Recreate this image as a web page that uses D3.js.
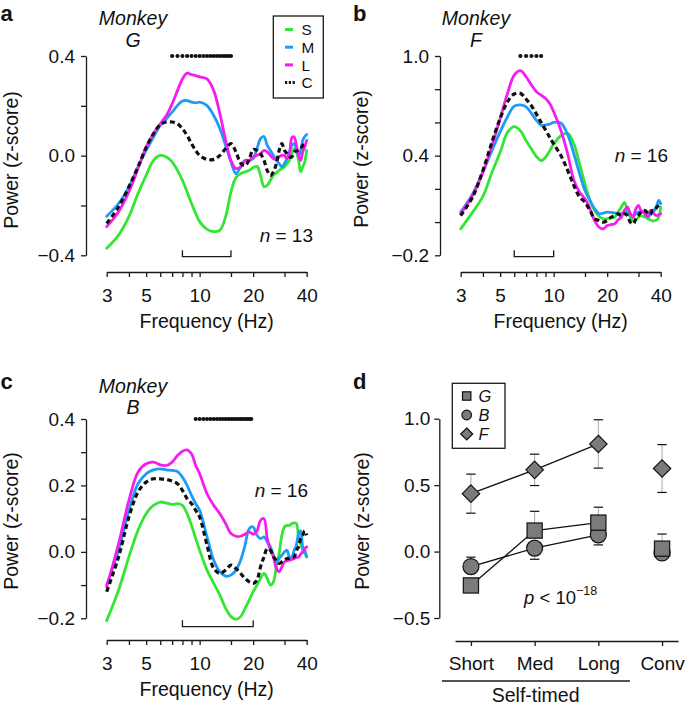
<!DOCTYPE html>
<html><head><meta charset="utf-8">
<script src="https://cdn.jsdelivr.net/npm/d3@7"></script>
<style>
body{margin:0;background:#fff;}
svg{display:block;font-family:"Liberation Sans",Arial,Helvetica,sans-serif;}
</style></head><body>
<svg id="chart" width="685" height="706"></svg>
<script>
// ---------------- DATA ----------------
const freqs = [3,3.5,4,4.5,5,5.5,6,6.5,7,7.5,8,8.5,9,9.5,10,11,12,13,14,15,16,17,18,19,20,21,22,23,24,25,26,27,28,29,30,31,32,33,34,35,36,37,38,39,40];
const freqTicks = [3,4,5,6,7,8,9,10,15,20,30,40];
const freqTickLabels = [3,5,10,20,40];
const seriesNames = ["S","M","L","C"];

// Panel a — Monkey G
const aS = [-0.372,-0.319,-0.245,-0.152,-0.079,-0.019,0.001,-0.005,-0.025,-0.059,-0.099,-0.145,-0.192,-0.232,-0.265,
  -0.296,-0.305,-0.299,-0.245,-0.145,-0.088,-0.072,-0.065,-0.059,-0.048,
  -0.043,-0.079,-0.125,-0.119,-0.099,-0.079,-0.069,-0.059,-0.052,-0.045,-0.032,-0.019,0.008,0.028,0.015,-0.019,-0.065,-0.045,-0.025,0.021];
const aM = [-0.243,-0.192,-0.125,-0.045,0.021,0.075,0.121,0.148,0.175,0.201,0.219,0.221,0.215,0.212,0.215,
  0.201,0.161,0.108,0.041,-0.025,-0.072,-0.045,-0.019,-0.019,-0.012,
  0.028,0.068,0.077,0.041,0.021,0.001,-0.019,-0.032,-0.045,-0.032,-0.012,0.015,0.041,0.048,0.028,0.001,0.021,0.061,0.077,0.085];
const aL = [-0.285,-0.225,-0.145,-0.052,0.035,0.088,0.128,0.161,0.208,0.261,0.308,0.331,0.325,0.321,0.316,
  0.308,0.261,0.168,0.061,-0.019,-0.052,-0.045,-0.019,-0.019,-0.005,
  0.001,0.008,0.021,0.015,0.001,-0.012,-0.016,-0.005,0.001,0.001,-0.012,0.008,0.072,0.075,0.041,0.001,-0.019,0.015,0.035,0.061];
const aC = [-0.272,-0.205,-0.125,-0.045,0.032,0.088,0.124,0.135,0.135,0.128,0.108,0.081,0.048,0.021,0.001,
  -0.015,-0.015,0.001,0.028,0.048,0.015,-0.03,-0.04,-0.015,0.025,
  0.021,0.008,-0.019,-0.06,-0.079,-0.065,-0.032,0.021,0.048,0.021,0.008,-0.005,-0.005,0.015,0.019,0.021,0.028,0.041,0.045,0.048];
const aSig = [7,7.5,8,8.5,9,9.5,10,10.5,11,11.5,12,12.5,13,13.5,14,14.5,15];
const aBracket = [8,15];

// Panel b — Monkey F
const bS = [-0.041,0.06,0.155,0.3,0.42,0.54,0.575,0.55,0.49,0.44,0.395,0.37,0.39,0.43,0.47,
  0.52,0.535,0.47,0.35,0.23,0.13,0.07,0.035,0.02,0.02,
  0.025,0.029,0.06,0.09,0.119,0.07,0.029,0.008,0.013,0.029,0.039,0.033,0.029,0.019,0.013,0.008,0.009,0.013,0.029,0.09];
const bM = [0.06,0.17,0.301,0.432,0.543,0.634,0.698,0.706,0.694,0.654,0.613,0.583,0.585,0.59,0.6,
  0.595,0.525,0.41,0.29,0.19,0.13,0.08,0.05,0.054,0.06,
  0.058,0.056,0.05,0.05,0.06,0.054,0.046,0.039,0.05,0.06,0.06,0.06,0.046,0.029,0.05,0.066,0.07,0.1,0.13,0.11];
const bL = [0.05,0.16,0.301,0.462,0.624,0.775,0.885,0.912,0.875,0.825,0.785,0.765,0.744,0.714,0.664,
  0.55,0.41,0.251,0.18,0.14,0.08,0.009,-0.031,-0.041,-0.021,
  -0.015,-0.011,0.013,0.029,0.07,0.09,0.05,0.029,0.08,0.1,0.07,0.06,0.04,0.039,0.07,0.06,0.046,0.039,0.045,0.05];
const bC = [0.039,0.15,0.311,0.483,0.624,0.724,0.771,0.775,0.74,0.7,0.65,0.6,0.555,0.51,0.47,
  0.4,0.31,0.22,0.15,0.12,0.07,0.02,0.009,0.0,0.009,
  0.029,0.039,0.05,0.039,0.05,0.039,-0.001,-0.011,0.019,0.039,0.06,0.07,0.066,0.05,0.046,0.07,0.07,0.09,0.1,0.11];
const bSig = [6.5,7,7.5,8,8.5];
const bBracket = [6,10];

// Panel c — Monkey B
const cS = [-0.207,-0.115,-0.015,0.065,0.115,0.14,0.15,0.147,0.143,0.145,0.14,0.115,0.08,0.04,0.005,
  -0.055,-0.095,-0.13,-0.17,-0.195,-0.203,-0.195,-0.17,-0.145,-0.12,
  -0.1,-0.08,-0.065,-0.08,-0.1,-0.09,-0.045,-0.005,0.05,0.075,0.08,0.08,0.085,0.087,0.085,0.045,0.025,0.005,-0.005,-0.015];
const cM = [-0.1,0.005,0.125,0.205,0.235,0.247,0.25,0.247,0.245,0.242,0.225,0.2,0.17,0.145,0.125,
  0.045,-0.025,-0.06,-0.073,-0.07,-0.055,-0.025,0.02,0.07,0.075,
  0.05,0.04,0.045,0.03,0.015,-0.01,-0.03,-0.02,-0.01,0.0,0.005,-0.015,-0.015,0.005,0.02,0.055,0.063,0.015,0.005,-0.015];
const cL = [-0.105,0.025,0.155,0.24,0.265,0.27,0.262,0.26,0.27,0.29,0.303,0.307,0.295,0.26,0.235,
  0.175,0.14,0.115,0.085,0.055,0.047,0.047,0.053,0.06,0.053,
  0.063,0.095,0.1,0.04,0.005,-0.015,-0.05,-0.06,-0.045,-0.03,-0.027,-0.025,-0.023,-0.02,-0.017,-0.015,-0.007,0.0,0.01,0.015];
const cC = [-0.12,-0.015,0.105,0.18,0.21,0.22,0.22,0.218,0.213,0.205,0.185,0.16,0.145,0.125,0.105,
  0.02,-0.05,-0.065,-0.055,-0.04,-0.05,-0.065,-0.08,-0.09,-0.095,
  -0.085,-0.045,-0.015,0.01,0.005,-0.015,-0.025,-0.035,-0.03,-0.025,-0.02,-0.02,-0.017,-0.015,0.005,0.015,0.04,0.05,0.063,0.05];
const cSig = [9.5,10,10.5,11,11.5,12,12.5,13,13.5,14,14.5,15,15.5,16,16.5,17,17.5,18,18.5,19,19.5];
const cBracket = [8,20];

// Panel d — summary
const categories = ["Short","Med","Long","Conv"];
const monkeys = ["G","B","F"];
const gMean = [-0.255,0.158,0.218,0.022];
const gErrUp = [0.02,0.145,0.116,0.11];
const gErrDown = [0.02,0.0,0.0,0.0];
const bMean = [-0.113,0.026,0.126,-0.01];
const bErrUp = [0.071,0.0,0.0,0.0];
const bErrDown = [0.0,0.084,0.076,0.02];
const fMean = [0.436,0.615,0.81,0.625];
const fErrUp = [0.147,0.118,0.182,0.18];
const fErrDown = [0.147,0.118,0.182,0.18];

// ---------------- STYLE ----------------
const colors = {S:"#33e633", M:"#1e9cf5", L:"#f51cf0", C:"#111111"};
const AXC = "#1a1a1a";
const TICK_FS = 19, TITLE_FS = 19.5;
const svg = d3.select("#chart");
const fmt1 = d3.format(".1f");
const near = (arr, v) => arr.some(a => Math.abs(a - v) < 1e-9);

function styleAxis(sel){
  sel.selectAll("path.domain").attr("stroke", AXC).attr("stroke-width", 1.3);
  sel.selectAll(".tick line").attr("stroke", AXC).attr("stroke-width", 1.3);
  sel.selectAll(".tick text").attr("fill", "#111").style("font-size", TICK_FS + "px").style("font-family", '"Liberation Sans", Arial, sans-serif');
}

function spectrumPanel(cfg){
  const g = svg.append("g");
  const x = d3.scaleLog().domain([3,40]).range([cfg.x0, cfg.x0 + 200]);
  const y = d3.scaleLinear().domain(cfg.yDomain).range([cfg.yBottom, cfg.yTop]);

  const ya = d3.axisLeft(y).tickValues(cfg.yTicks).tickSize(5).tickSizeOuter(0).tickPadding(6)
    .tickFormat(v => near(cfg.yLabels, v) ? fmt1(v) : "");
  g.append("g").attr("transform", `translate(${cfg.yAxisX},0)`).call(ya).call(styleAxis);

  const xa = d3.axisBottom(x).tickValues(freqTicks).tickSize(5).tickSizeOuter(0).tickPadding(11.5)
    .tickFormat(v => freqTickLabels.includes(v) ? String(v) : "");
  g.append("g").attr("transform", `translate(0,${cfg.xAxisY})`).call(xa).call(styleAxis);

  g.append("text").attr("x", cfg.x0 + 100).attr("y", cfg.xAxisY + 56).attr("text-anchor", "middle")
    .style("font-size", TITLE_FS + "px").attr("fill", "#111").text("Frequency (Hz)");
  g.append("text").attr("transform", `translate(${cfg.yTitleX},${cfg.yTitleY}) rotate(-90)`)
    .attr("text-anchor", "middle").style("font-size", TITLE_FS + "px").attr("fill", "#111").text("Power (z-score)");

  const line = d3.line().x((d, i) => x(freqs[i])).y(d => y(d)).curve(d3.curveCatmullRom.alpha(0.5));
  seriesNames.forEach(name => {
    const p = g.append("path").datum(cfg.series[name]).attr("d", line).attr("fill", "none")
      .attr("stroke", colors[name]).attr("stroke-linejoin", "round");
    if (name === "C") p.attr("stroke-width", 3.2).attr("stroke-dasharray", "5,3.2");
    else p.attr("stroke-width", 2.8).attr("stroke-linecap", "round");
  });

  g.selectAll("circle.sig").data(cfg.sig).join("circle").attr("class", "sig")
    .attr("cx", d => x(d)).attr("cy", cfg.yTop).attr("r", 2.1).attr("fill", "#111");

  const [b0, b1] = cfg.bracket;
  g.append("path").attr("d", `M${x(b0)},${cfg.bracketY - 6.5}V${cfg.bracketY}H${x(b1)}V${cfg.bracketY - 6.5}`)
    .attr("fill", "none").attr("stroke", AXC).attr("stroke-width", 1.3);

  const mt = g.append("text").attr("text-anchor", "middle").style("font-size", "19.5px").style("font-style", "italic").attr("fill", "#111");
  mt.append("tspan").attr("x", cfg.monkeyX).attr("y", cfg.monkeyY).text("Monkey");
  mt.append("tspan").attr("x", cfg.monkeyX).attr("y", cfg.monkeyY + 21.7).text(cfg.monkey);

  const nt = g.append("text").attr("x", cfg.nX).attr("y", cfg.nY).attr("text-anchor", "end").style("font-size", "19px").attr("fill", "#111");
  nt.append("tspan").style("font-style", "italic").text("n");
  nt.append("tspan").text(" = " + cfg.n);

  svg.append("text").attr("x", cfg.letterX).attr("y", cfg.letterY).style("font-size", "22px").style("font-weight", "bold")
    .attr("fill", "#111").text(cfg.letter);
  return {g, x, y};
}

spectrumPanel({letter:"a", letterX:0.5, letterY:21, x0:106.7, yAxisX:86, yTop:56, yBottom:255.3, xAxisY:272,
  yDomain:[-0.4,0.4], yTicks:[-0.4,-0.2,0,0.2,0.4], yLabels:[-0.4,0,0.4], yTitleX:17.5, yTitleY:160,
  series:{S:aS, M:aM, L:aL, C:aC}, sig:aSig, bracket:aBracket, bracketY:256.7,
  monkey:"G", monkeyX:133, monkeyY:25, n:13, nX:313, nY:241.7});

spectrumPanel({letter:"b", letterX:353, letterY:21, x0:460.7, yAxisX:440, yTop:56, yBottom:255.3, xAxisY:272,
  yDomain:[-0.2,1.0], yTicks:[-0.2,0,0.2,0.4,0.6,0.8,1.0], yLabels:[-0.2,0.4,1.0], yTitleX:368, yTitleY:159,
  series:{S:bS, M:bM, L:bL, C:bC}, sig:bSig, bracket:bBracket, bracketY:256.7,
  monkey:"F", monkeyX:476, monkeyY:25, n:16, nX:668, nY:161.7});

spectrumPanel({letter:"c", letterX:0.5, letterY:389, x0:106.7, yAxisX:86, yTop:419, yBottom:618.3, xAxisY:640,
  yDomain:[-0.2,0.4], yTicks:[-0.2,-0.1,0,0.1,0.2,0.3,0.4], yLabels:[-0.2,0,0.2,0.4], yTitleX:17.5, yTitleY:521,
  series:{S:cS, M:cM, L:cL, C:cC}, sig:cSig, bracket:cBracket, bracketY:626.7,
  monkey:"B", monkeyX:133, monkeyY:392.5, n:16, nX:308, nY:496.7});

// legend panel a
(function(){
  const lg = svg.append("g");
  lg.append("rect").attr("x", 273.3).attr("y", 16).attr("width", 50).attr("height", 82)
    .attr("fill", "#fff").attr("stroke", AXC).attr("stroke-width", 1.3);
  seriesNames.forEach((name, i) => {
    const yy = 29.5 + i * 17.7;
    const l = lg.append("line").attr("x1", 285).attr("x2", 293).attr("y1", yy).attr("y2", yy)
      .attr("stroke", colors[name]).attr("stroke-width", 3);
    if (name === "C") l.attr("x2", 295).attr("stroke-dasharray", "2.2,1.6");
    lg.append("text").attr("x", 301.5).attr("y", yy + 5.6).style("font-size", "15.3px").attr("fill", "#111").text(name);
  });
})();

// ---------------- Panel d ----------------
(function(){
  const g = svg.append("g");
  const x = d3.scalePoint().domain(categories).range([455, 678]).padding(0.25);
  const y = d3.scaleLinear().domain([-0.5, 1.0]).range([618, 418.7]);

  const ya = d3.axisLeft(y).tickValues([-0.5,0,0.5,1.0]).tickSize(5).tickSizeOuter(0).tickPadding(4).tickFormat(fmt1);
  g.append("g").attr("transform", "translate(439.3,0)").call(ya).call(styleAxis);
  const xa = d3.axisBottom(x).tickSize(5).tickSizeOuter(0).tickPadding(10.5);
  g.append("g").attr("transform", "translate(0,641)").call(xa).call(styleAxis);

  g.append("line").attr("x1", x("Short") - 29).attr("x2", x("Long") + 31.6).attr("y1", 681).attr("y2", 681)
    .attr("stroke", AXC).attr("stroke-width", 1.3);
  g.append("text").attr("x", x("Med") + 1).attr("y", 702).attr("text-anchor", "middle").style("font-size", TITLE_FS + "px")
    .attr("fill", "#111").text("Self-timed");
  g.append("text").attr("transform", "translate(369,521) rotate(-90)").attr("text-anchor", "middle")
    .style("font-size", TITLE_FS + "px").attr("fill", "#111").text("Power (z-score)");
  svg.append("text").attr("x", 353).attr("y", 389).style("font-size", "22px").style("font-weight", "bold").attr("fill", "#111").text("d");

  const sets = [
    {name:"F", mean:fMean, up:fErrUp, down:fErrDown, shape:"diamond"},
    {name:"B", mean:bMean, up:bErrUp, down:bErrDown, shape:"circle"},
    {name:"G", mean:gMean, up:gErrUp, down:gErrDown, shape:"square"}
  ];
  const selfTimed = categories.slice(0, 3);
  sets.forEach(s => {
    const pts = selfTimed.map((c, i) => [x(c), y(s.mean[i])]);
    g.append("path").attr("d", d3.line()(pts)).attr("fill", "none").attr("stroke", "#111").attr("stroke-width", 1.3);
  });
  sets.forEach(s => {
    categories.forEach((c, i) => {
      const cx = x(c), top = y(s.mean[i] + s.up[i]), bot = y(s.mean[i] - s.down[i]);
      g.append("line").attr("x1", cx).attr("x2", cx).attr("y1", top).attr("y2", bot).attr("stroke", "#a8a8a8").attr("stroke-width", 1);
      if (s.up[i] > 0) g.append("line").attr("x1", cx - 4.7).attr("x2", cx + 4.7).attr("y1", top).attr("y2", top).attr("stroke", "#111").attr("stroke-width", 1.2);
      if (s.down[i] > 0) g.append("line").attr("x1", cx - 4.7).attr("x2", cx + 4.7).attr("y1", bot).attr("y2", bot).attr("stroke", "#111").attr("stroke-width", 1.2);
    });
  });
  const FILL = "#7b7b7b";
  function marker(sel, shape, cx, cy, sz){
    if (shape === "square") sel.append("rect").attr("x", cx - sz).attr("y", cy - sz).attr("width", 2*sz).attr("height", 2*sz);
    else if (shape === "circle") sel.append("circle").attr("cx", cx).attr("cy", cy).attr("r", sz);
    else sel.append("path").attr("d", `M${cx},${cy - sz}L${cx + sz},${cy}L${cx},${cy + sz}L${cx - sz},${cy}Z`);
    sel.selectAll(":last-child").attr("fill", FILL).attr("stroke", "#111").attr("stroke-width", 1.2);
  }
  const sizes = {square:7.6, circle:8, diamond:8.7};
  sets.forEach(s => {
    categories.forEach((c, i) => {
      const mg = g.append("g");
      marker(mg, s.shape, x(c), y(s.mean[i]), sizes[s.shape]);
    });
  });

  const lg = svg.append("g");
  lg.append("rect").attr("x", 452.3).attr("y", 383.3).attr("width", 52.7).attr("height", 65)
    .attr("fill", "#fff").attr("stroke", AXC).attr("stroke-width", 1.3);
  const legShapes = {G:"square", B:"circle", F:"diamond"};
  const legSizes = {square:4.2, circle:4.8, diamond:6};
  monkeys.forEach((m, i) => {
    const yy = 396 + i * 19;
    const mg = lg.append("g");
    marker(mg, legShapes[m], 466.7, yy, legSizes[legShapes[m]]);
    lg.append("text").attr("x", 478.5).attr("y", yy + 6).style("font-size", "16.4px").style("font-style", "italic")
      .attr("fill", "#111").text(m);
  });

  const pt = g.append("text").attr("x", 524).attr("y", 604).style("font-size", "18.5px").attr("fill", "#111");
  pt.append("tspan").style("font-style", "italic").text("p");
  pt.append("tspan").text(" < 10");
  pt.append("tspan").attr("dy", -9).style("font-size", "12.5px").text("\u221218");
})();
</script>
</body></html>
